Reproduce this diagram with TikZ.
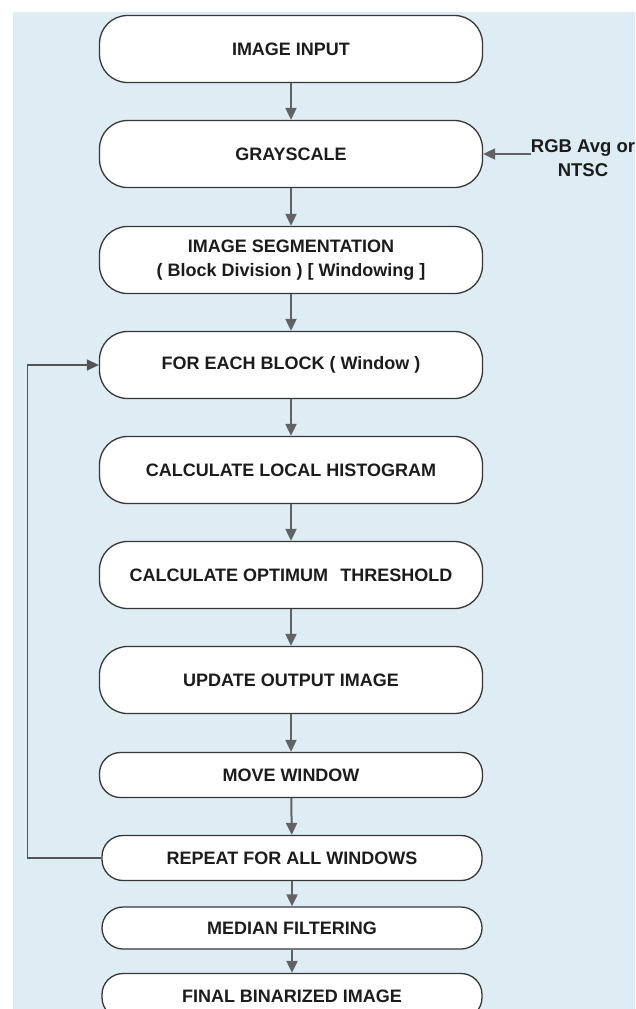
\documentclass[tikz,border=0pt]{standalone}
\usepackage{fontspec}
\setmainfont{Liberation Sans}
\usetikzlibrary{arrows.meta}
\definecolor{bgblue}{RGB}{221,237,243}
\definecolor{linegray}{RGB}{98,98,98}
\definecolor{edgegray}{RGB}{55,55,55}
\definecolor{inkgray}{RGB}{28,28,28}
\tikzset{
  stage/.style={draw=edgegray, line width=1.3pt, fill=white, rounded corners=28pt,
    minimum width=383pt, minimum height=67pt, inner sep=0pt, align=center,
    text=inkgray, font=\fontsize{18}{24}\selectfont\bfseries},
  slim/.style={stage, minimum height=45pt, rounded corners=21pt},
  flow/.style={draw=linegray, line width=2pt, -{Triangle[length=12pt,width=11pt]}},
  back/.style={draw=edgegray!85!white, line width=1.4pt, -{Triangle[length=12pt,width=11pt]}},
  note/.style={align=center, inner sep=0pt, text=inkgray,
    font=\fontsize{18.5}{24}\selectfont\bfseries}
}
\begin{document}
\begin{tikzpicture}[x=1pt,y=-1pt]
\useasboundingbox (0,0) rectangle (635,1009);
\fill[bgblue] (13,12) rectangle (635,1009);

% main column of processing stages
\node[stage] (inp)  at (291,49)  {IMAGE INPUT};
\node[stage] (gray) at (291,154) {GRAYSCALE};
\node[stage] (seg)  at (291,260) {IMAGE SEGMENTATION\\( Block Division ) [ Windowing ]};
\node[stage] (each) at (291,365) {FOR EACH BLOCK ( Window )};
\node[stage] (hist) at (291,470) {CALCULATE LOCAL HISTOGRAM};
\node[stage] (thr)  at (291,575) {CALCULATE OPTIMUM\hspace{0.4em} THRESHOLD};
\node[stage] (upd)  at (291,680) {UPDATE OUTPUT IMAGE};
\node[slim]  (move) at (291,775) {MOVE WINDOW};
\node[slim, minimum width=380pt] (rep)  at (292,858) {REPEAT FOR ALL WINDOWS};
\node[slim, minimum width=380pt, minimum height=42pt] (med) at (292,928) {MEDIAN FILTERING};
\node[slim, minimum width=380pt] (fin)  at (292,996) {FINAL BINARIZED IMAGE};

% side input for the grayscale conversion
\node[note] (rgb) at (583,158) {RGB Avg or\\NTSC};

% connectors
\draw[flow] (inp) -- (gray);
\draw[flow] (gray) -- (seg);
\draw[flow] (seg) -- (each);
\draw[flow] (each) -- (hist);
\draw[flow] (hist) -- (thr);
\draw[flow] (thr) -- (upd);
\draw[flow] (upd) -- (move);
\draw[flow] (move) -- (rep);
\draw[flow] (rep) -- (med);
\draw[flow] (med) -- (fin);
\draw[flow] (rgb.west |- gray.east) -- (gray.east);

% loop back to the next window
\draw[back] (rep.west) -- ++(-74,0) |- (each.west);
\end{tikzpicture}
\end{document}
